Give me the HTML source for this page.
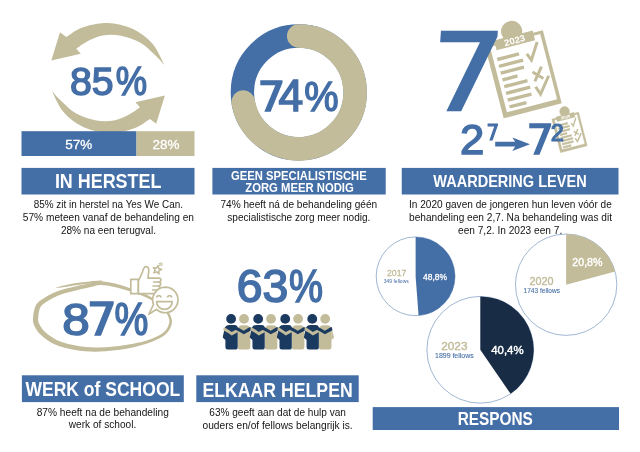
<!DOCTYPE html>
<html lang="nl"><head><meta charset="utf-8"><title>Resultaten</title>
<style>html,body{margin:0;padding:0;background:#fff}svg{display:block}text{font-family:"Liberation Sans",sans-serif}</style>
</head><body>
<svg width="640" height="452" viewBox="0 0 640 452">
<rect width="640" height="452" fill="#fff"/>
<path id="arr" d="M66.25 37.00C68.96 35.42 75.62 29.83 82.50 27.50C89.38 25.17 99.17 22.79 107.50 23.00C115.83 23.21 125.00 25.29 132.50 28.75C140.00 32.21 147.20 37.71 152.50 43.75C157.80 49.79 162.33 61.46 164.30 65.00C162.75 63.33 159.05 58.75 155.00 55.00C150.95 51.25 145.83 45.75 140.00 42.50C134.17 39.25 126.25 36.67 120.00 35.50C113.75 34.33 107.92 34.54 102.50 35.50C97.08 36.46 91.88 39.04 87.50 41.25C83.12 43.46 78.12 47.50 76.25 48.75L80.75 53.75L51.3 60.5L60 32.3Z" fill="#c2bc9a"/>
<use href="#arr" transform="rotate(180 108.1 78)"/>
<text fill="#446ea6" stroke="#446ea6" stroke-width="1.50" stroke-linejoin="miter"><tspan x="69.94" y="94.86" font-size="39.69" font-family="Liberation Sans, sans-serif" textLength="43.76" lengthAdjust="spacingAndGlyphs">85</tspan><tspan x="115.79" y="95.01" font-size="40.16" font-family="Liberation Sans, sans-serif" textLength="31.31" lengthAdjust="spacingAndGlyphs">%</tspan></text>
<rect x="21.50" y="131.20" width="115.00" height="24.80" fill="#446ea6" />
<rect x="136.50" y="131.20" width="58.00" height="24.80" fill="#c2bc9a" />
<text x="65.20" y="149.00" font-size="13.40" fill="#fff" font-weight="normal" textLength="27.00" lengthAdjust="spacingAndGlyphs" text-anchor="start" stroke="#fff" stroke-width="0.3">57%</text>
<text x="152.40" y="149.00" font-size="13.40" fill="#fff" font-weight="normal" textLength="27.00" lengthAdjust="spacingAndGlyphs" text-anchor="start" stroke="#fff" stroke-width="0.3">28%</text>
<rect x="21.50" y="167.90" width="173.00" height="26.60" fill="#446ea6" />
<text x="54.90" y="188.40" font-size="20.35" fill="#fff" font-weight="bold" textLength="106.45" lengthAdjust="spacingAndGlyphs" text-anchor="start" >IN HERSTEL</text>
<text x="33.75" y="208.00" font-size="10.60" fill="#141414" font-weight="normal" textLength="149.25" lengthAdjust="spacingAndGlyphs" text-anchor="start" >85% zit in herstel na Yes We Can.</text>
<text x="22.80" y="220.80" font-size="10.60" fill="#141414" font-weight="normal" textLength="171.20" lengthAdjust="spacingAndGlyphs" text-anchor="start" >57% meteen vanaf de behandeling en</text>
<text x="60.90" y="233.60" font-size="10.60" fill="#141414" font-weight="normal" textLength="95.10" lengthAdjust="spacingAndGlyphs" text-anchor="start" >28% na een terugval.</text>
<circle cx="298.75" cy="92.40" r="56.40" fill="none" stroke="#446ea6" stroke-width="23.30"/>
<path d="M298.75 36.00A56.40 56.40 0 1 1 243.21 102.19" fill="none" stroke="#c2bc9a" stroke-width="23.60" stroke-linecap="round"/>
<text fill="#446ea6" stroke="#446ea6" stroke-width="1.50" stroke-linejoin="miter"><tspan x="257.44" y="110.75" font-size="41.43" font-family="DejaVu Sans, sans-serif" textLength="27.96" lengthAdjust="spacingAndGlyphs">7</tspan><tspan x="278.63" y="110.75" font-size="43.90" font-family="Liberation Sans, sans-serif" textLength="24.72" lengthAdjust="spacingAndGlyphs">4</tspan><tspan x="304.27" y="110.50" font-size="43.16" font-family="Liberation Sans, sans-serif" textLength="34.35" lengthAdjust="spacingAndGlyphs">%</tspan></text>
<rect x="212.40" y="167.90" width="173.30" height="26.60" fill="#446ea6" />
<text x="231.04" y="179.75" font-size="12.21" fill="#fff" font-weight="bold" textLength="135.65" lengthAdjust="spacingAndGlyphs" text-anchor="start" >GEEN SPECIALISTISCHE</text>
<text x="245.26" y="191.90" font-size="12.06" fill="#fff" font-weight="bold" textLength="108.54" lengthAdjust="spacingAndGlyphs" text-anchor="start" >ZORG MEER NODIG</text>
<text x="220.40" y="208.00" font-size="10.60" fill="#141414" font-weight="normal" textLength="156.80" lengthAdjust="spacingAndGlyphs" text-anchor="start" >74% heeft ná de behandeling géén</text>
<text x="227.30" y="220.70" font-size="10.60" fill="#141414" font-weight="normal" textLength="143.10" lengthAdjust="spacingAndGlyphs" text-anchor="start" >specialistische zorg meer nodig.</text>
<g transform="translate(486.20 44.80) rotate(-14.5) scale(1.000)" >
<circle cx="28.00" cy="-6.60" r="10.6" fill="#c2bc9a"/>
<rect x="-1.5" y="0" width="60" height="75.5" fill="#c2bc9a"/>
<rect x="3.2" y="3" width="51.8" height="67.5" fill="#fff"/>
<rect x="8.7" y="-2.2" width="39.8" height="10" fill="#c2bc9a"/>
<rect x="7" y="15.30" width="22.50" height="3.4" fill="#c2bc9a"/>
<rect x="7" y="22.30" width="25.00" height="3.4" fill="#c2bc9a"/>
<rect x="7" y="29.30" width="24.00" height="3.4" fill="#c2bc9a"/>
<rect x="7" y="36.30" width="15.50" height="3.4" fill="#c2bc9a"/>
<rect x="7" y="43.30" width="24.00" height="3.4" fill="#c2bc9a"/>
<rect x="7" y="50.30" width="25.00" height="3.4" fill="#c2bc9a"/>
<rect x="7" y="57.30" width="24.50" height="3.4" fill="#c2bc9a"/>
<rect x="7" y="64.30" width="17.50" height="3.4" fill="#c2bc9a"/>
<path d="M37 19L40 26L50 10M38 38L47 47M48 35L38 47.5M37.3 53L40.3 61.3L52.7 45.6" fill="none" stroke="#c2bc9a" stroke-width="3" stroke-linejoin="miter"/>
<text x="28.6" y="6" font-size="9.00" fill="#fff" stroke="none" text-anchor="middle" font-weight="bold" textLength="21.5" lengthAdjust="spacingAndGlyphs">2023</text>
</g>
<g transform="translate(552.60 119.00) rotate(-14.5) scale(0.457)" stroke="#c2bc9a" stroke-width="1.1">
<circle cx="29.50" cy="-9.50" r="10.6" fill="#c2bc9a"/>
<rect x="-1.5" y="0" width="60" height="75.5" fill="#c2bc9a"/>
<rect x="3.2" y="3" width="51.8" height="67.5" fill="#fff"/>
<rect x="8.7" y="-2.2" width="39.8" height="10" fill="#c2bc9a"/>
<rect x="7" y="15.30" width="22.50" height="3.4" fill="#c2bc9a"/>
<rect x="7" y="22.30" width="25.00" height="3.4" fill="#c2bc9a"/>
<rect x="7" y="29.30" width="24.00" height="3.4" fill="#c2bc9a"/>
<rect x="7" y="36.30" width="15.50" height="3.4" fill="#c2bc9a"/>
<rect x="7" y="43.30" width="24.00" height="3.4" fill="#c2bc9a"/>
<rect x="7" y="50.30" width="25.00" height="3.4" fill="#c2bc9a"/>
<rect x="7" y="57.30" width="24.50" height="3.4" fill="#c2bc9a"/>
<rect x="7" y="64.30" width="17.50" height="3.4" fill="#c2bc9a"/>
<path d="M37 19L40 26L50 10M38 38L47 47M48 35L38 47.5M37.3 53L40.3 61.3L52.7 45.6" fill="none" stroke="#c2bc9a" stroke-width="3" stroke-linejoin="miter"/>
<text x="28.6" y="6" font-size="8.50" fill="#fff" stroke="none" text-anchor="middle" font-weight="bold" textLength="21.5" lengthAdjust="spacingAndGlyphs">2020</text>
</g>
<text fill="#446ea6" stroke="#446ea6" stroke-width="2.50" stroke-linejoin="miter" transform="translate(469 30.75) skewX(-4) translate(-469 -30.75)"><tspan x="432.76" y="110.00" font-size="107.00" font-family="DejaVu Sans, sans-serif" textLength="73.57" lengthAdjust="spacingAndGlyphs">7</tspan></text>
<text fill="#446ea6" stroke="#446ea6" stroke-width="1.50" stroke-linejoin="miter"><tspan x="459.95" y="154.15" font-size="42.25" font-family="Liberation Sans, sans-serif" textLength="24.29" lengthAdjust="spacingAndGlyphs">2</tspan></text>
<text fill="#446ea6" stroke="#446ea6" stroke-width="1.20" stroke-linejoin="miter"><tspan x="486.57" y="140.30" font-size="21.67" font-family="DejaVu Sans, sans-serif" textLength="12.62" lengthAdjust="spacingAndGlyphs">7</tspan></text>
<path d="M495.2 141.8H515.2L512.3 137.5L530 144.2L512.3 150.9L515.2 146.6H495.2Z" fill="#446ea6"/>
<text fill="#446ea6" stroke="#446ea6" stroke-width="1.50" stroke-linejoin="miter"><tspan x="526.40" y="154.15" font-size="40.47" font-family="DejaVu Sans, sans-serif" textLength="27.55" lengthAdjust="spacingAndGlyphs">7</tspan></text>
<text fill="#446ea6" stroke="#446ea6" stroke-width="1.20" stroke-linejoin="miter"><tspan x="550.72" y="141.00" font-size="23.63" font-family="Liberation Sans, sans-serif" textLength="13.06" lengthAdjust="spacingAndGlyphs">2</tspan></text>
<rect x="401.75" y="167.90" width="216.75" height="26.60" fill="#446ea6" />
<text x="433.24" y="187.30" font-size="16.72" fill="#fff" font-weight="bold" textLength="153.44" lengthAdjust="spacingAndGlyphs" text-anchor="start" >WAARDERING LEVEN</text>
<text x="409.00" y="208.20" font-size="10.60" fill="#141414" font-weight="normal" textLength="202.80" lengthAdjust="spacingAndGlyphs" text-anchor="start" >In 2020 gaven de jongeren hun leven vóór de</text>
<text x="409.00" y="221.00" font-size="10.60" fill="#141414" font-weight="normal" textLength="203.00" lengthAdjust="spacingAndGlyphs" text-anchor="start" >behandeling een 2,7. Na behandeling was dit</text>
<text x="458.00" y="233.80" font-size="10.60" fill="#141414" font-weight="normal" textLength="104.20" lengthAdjust="spacingAndGlyphs" text-anchor="start" >een 7,2. In 2023 een 7.</text>
<circle cx="415.60" cy="276.30" r="39.40" fill="#fff" stroke="#446ea6" stroke-width="0.5"/>
<path d="M415.60 276.30L415.60 236.90A39.40 39.40 0 0 1 418.57 315.59Z" fill="#446ea6"/>
<text x="387.00" y="275.90" font-size="9.20" fill="#c2bc9a" font-weight="normal" textLength="19.40" lengthAdjust="spacingAndGlyphs" text-anchor="start" stroke="#c2bc9a" stroke-width="0.3">2017</text>
<text x="383.75" y="282.50" font-size="5.30" fill="#446ea6" font-weight="normal" textLength="25.00" lengthAdjust="spacingAndGlyphs" text-anchor="start" >349 fellows</text>
<text x="423.10" y="279.80" font-size="9.10" fill="#fff" font-weight="normal" textLength="24.00" lengthAdjust="spacingAndGlyphs" text-anchor="start" stroke="#fff" stroke-width="0.3">48,8%</text>
<circle cx="566.15" cy="284.70" r="50.70" fill="#fff" stroke="#446ea6" stroke-width="0.5"/>
<path d="M566.15 284.70L566.15 234.00A50.70 50.70 0 0 1 615.09 271.48Z" fill="#c2bc9a"/>
<text x="529.50" y="284.80" font-size="10.60" fill="#c2bc9a" font-weight="normal" textLength="24.00" lengthAdjust="spacingAndGlyphs" text-anchor="start" stroke="#c2bc9a" stroke-width="0.4">2020</text>
<text x="523.60" y="293.00" font-size="6.70" fill="#446ea6" font-weight="normal" textLength="36.40" lengthAdjust="spacingAndGlyphs" text-anchor="start" stroke="#446ea6" stroke-width="0.08">1743 fellows</text>
<text x="572.30" y="265.70" font-size="11.00" fill="#fff" font-weight="normal" textLength="30.20" lengthAdjust="spacingAndGlyphs" text-anchor="start" stroke="#fff" stroke-width="0.4">20,8%</text>
<circle cx="480.30" cy="349.80" r="53.40" fill="#fff" stroke="#446ea6" stroke-width="0.5"/>
<path d="M480.30 349.80L480.30 296.40A53.40 53.40 0 0 1 510.59 393.78Z" fill="#182d45"/>
<text x="441.25" y="349.70" font-size="10.80" fill="#c2bc9a" font-weight="normal" textLength="26.25" lengthAdjust="spacingAndGlyphs" text-anchor="start" stroke="#c2bc9a" stroke-width="0.4">2023</text>
<text x="435.00" y="358.00" font-size="6.80" fill="#446ea6" font-weight="normal" textLength="38.75" lengthAdjust="spacingAndGlyphs" text-anchor="start" stroke="#446ea6" stroke-width="0.08">1899 fellows</text>
<text x="491.25" y="354.40" font-size="11.60" fill="#fff" font-weight="normal" textLength="32.30" lengthAdjust="spacingAndGlyphs" text-anchor="start" stroke="#fff" stroke-width="0.45">40,4%</text>
<rect x="372.70" y="407.10" width="246.30" height="22.90" fill="#446ea6" />
<text x="457.67" y="425.30" font-size="17.73" fill="#fff" font-weight="bold" textLength="75.23" lengthAdjust="spacingAndGlyphs" text-anchor="start" >RESPONS</text>
<path d="M33.00 318.00C33.25 314.50 34.00 308.42 36.00 305.00C38.00 301.58 41.33 299.83 45.00 297.50C48.67 295.17 53.00 292.83 58.00 291.00C63.00 289.17 69.67 287.78 75.00 286.50C80.33 285.22 85.83 284.17 90.00 283.30C94.17 282.43 95.83 281.25 100.00 281.30C104.17 281.35 110.00 282.43 115.00 283.60C120.00 284.77 124.17 286.15 130.00 288.30C135.83 290.45 144.50 293.55 150.00 296.50C155.50 299.45 159.67 303.00 163.00 306.00C166.33 309.00 168.53 311.53 170.00 314.50C171.47 317.47 172.47 320.55 171.80 323.80C171.13 327.05 169.30 331.00 166.00 334.00C162.70 337.00 157.20 339.65 152.00 341.80C146.80 343.95 140.97 345.48 134.80 346.90C128.63 348.32 121.63 349.50 115.00 350.30C108.37 351.10 101.67 351.75 95.00 351.70C88.33 351.65 81.67 351.20 75.00 350.00C68.33 348.80 60.67 347.00 55.00 344.50C49.33 342.00 44.42 338.08 41.00 335.00C37.58 331.92 35.83 328.83 34.50 326.00C33.17 323.17 32.75 321.50 33.00 318.00ZM39.53 324.57C40.74 327.00 42.31 329.64 45.43 332.33C48.54 335.02 52.99 338.49 58.22 340.71C63.45 342.94 70.58 344.57 76.79 345.68C83.00 346.79 89.24 347.27 95.49 347.38C101.74 347.50 108.03 347.00 114.31 346.39C120.59 345.78 127.25 344.89 133.16 343.73C139.07 342.58 144.72 341.34 149.77 339.48C154.82 337.62 160.23 335.28 163.46 332.57C166.69 329.86 168.51 326.22 169.17 323.23C169.83 320.24 168.85 317.37 167.42 314.64C165.98 311.91 163.82 309.57 160.57 306.84C157.32 304.10 153.24 300.88 147.93 298.25C142.61 295.62 134.26 292.95 128.67 291.06C123.08 289.17 119.14 287.93 114.39 286.91C109.64 285.90 104.10 284.92 100.16 284.95C96.22 284.98 94.64 286.20 90.75 287.08C86.85 287.97 81.73 289.07 76.78 290.28C71.82 291.50 65.64 292.75 61.02 294.39C56.40 296.03 52.43 298.09 49.05 300.13C45.68 302.16 42.58 303.67 40.77 306.61C38.96 309.55 38.41 314.75 38.21 317.75C38.00 320.74 38.33 322.14 39.53 324.57Z" fill="#c2bc9a" fill-rule="evenodd"/>
<path d="M54.3 288.3C62 285.4 72 283.4 82 282.2C90 281.2 96 280.6 102 280.4L102 282.4C96 282.6 90 283.2 83 284.2C73 285.6 63 287.2 54.3 288.3Z" fill="#c2bc9a"/>
<text fill="#446ea6" stroke="#446ea6" stroke-width="1.60" stroke-linejoin="miter"><tspan x="62.25" y="334.56" font-size="44.91" font-family="Liberation Sans, sans-serif" textLength="27.50" lengthAdjust="spacingAndGlyphs">8</tspan><tspan x="86.81" y="335.00" font-size="43.62" font-family="DejaVu Sans, sans-serif" textLength="30.13" lengthAdjust="spacingAndGlyphs">7</tspan><tspan x="114.54" y="334.73" font-size="45.45" font-family="Liberation Sans, sans-serif" textLength="33.81" lengthAdjust="spacingAndGlyphs">%</tspan></text>
<g fill="#fff" stroke="#c2bc9a" stroke-width="1.7" stroke-linejoin="round">
<rect x="130.8" y="279.3" width="7.6" height="14.4"/>
<path d="M138.4 281L142.5 272C143 268 145 266.3 146.8 266.8C148.8 267.5 149 270 148.6 272.5L148 278.2H159C161.5 278.2 161.5 282 159 282C161.5 282.3 161 286 158.5 286C160.5 286.5 160 290 157.5 290C159 290.7 158.5 293.7 156 293.7H138.4Z"/>
<path d="M153 282H159M152.5 286H158.5M152 290H157.5" fill="none"/>
<path d="M165.4 287.1A12.8 12.8 0 1 1 156.5 309.3L148.8 314.4L153.5 304.5A12.8 12.8 0 0 1 165.4 287.1Z"/>
<path d="M156.6 301.6H172.2A7.8 7.8 0 0 1 156.6 301.6Z"/>
<path d="M156.5 297.5A2.4 2.4 0 0 1 161.2 297.5M167.3 297.5A2.4 2.4 0 0 1 172 297.5" fill="none"/>
</g>
<polygon points="158.14,265.50 158.69,268.56 161.68,269.43 158.93,270.90 159.03,274.01 156.78,271.86 153.86,272.91 155.21,270.11 153.30,267.65 156.39,268.07" fill="#fff" stroke="#c2bc9a" stroke-width="1.50" stroke-linejoin="round"/>
<polygon points="161.10,262.44 161.29,263.76 162.59,264.10 161.39,264.70 161.47,266.04 160.53,265.08 159.29,265.57 159.90,264.38 159.05,263.35 160.37,263.57" fill="#fff" stroke="#c2bc9a" stroke-width="0.90" stroke-linejoin="round"/>
<rect x="21.90" y="375.30" width="161.90" height="26.80" fill="#446ea6" />
<text x="25.48" y="396.30" font-size="20.78" fill="#fff" font-weight="bold" textLength="154.76" lengthAdjust="spacingAndGlyphs" text-anchor="start" >WERK of SCHOOL</text>
<text x="36.70" y="415.50" font-size="10.60" fill="#141414" font-weight="normal" textLength="132.15" lengthAdjust="spacingAndGlyphs" text-anchor="start" >87% heeft na de behandeling</text>
<text x="68.80" y="428.20" font-size="10.60" fill="#141414" font-weight="normal" textLength="67.40" lengthAdjust="spacingAndGlyphs" text-anchor="start" >werk of school.</text>
<text fill="#446ea6" stroke="#446ea6" stroke-width="1.60" stroke-linejoin="miter"><tspan x="236.65" y="302.16" font-size="45.34" font-family="Liberation Sans, sans-serif" textLength="51.48" lengthAdjust="spacingAndGlyphs">63</tspan><tspan x="289.04" y="302.33" font-size="45.88" font-family="Liberation Sans, sans-serif" textLength="34.03" lengthAdjust="spacingAndGlyphs">%</tspan></text>
<defs><g id="pair">
<path d="M14.9 33.5V16Q15 11.4 19.5 11.4H23Q27.4 11.4 27.4 16V33.2Q27.4 35.7 24.9 35.7H17.1Q14.9 35.7 14.9 33.5Z" fill="#c2bc9a"/>
<circle cx="21.1" cy="5" r="4.9" fill="#c2bc9a"/>
<path d="M6.5 11.2H11.5Q14.8 11.2 14.8 14.5V33.5Q14.8 35.7 12.6 35.7H5Q2.5 35.7 2.5 33.2V26.2L0.3 24.2Q-0.3 23.6 0 22.6L1.6 15.2Q2.4 11.2 6.5 11.2Z" fill="#1b3a5f"/>
<circle cx="8.2" cy="5" r="4.9" fill="#1b3a5f"/>
<path d="M1.0 13.0Q5 15.2 8.8 18L15.3 14.6V18L8.8 21.5Q5 18.8 0.3 16.4Z" fill="#c2bc9a"/>
<path d="M11.5 11.8Q16.5 14 20.8 16.9L26.6 13.3Q27.6 12.8 27.9 13.8L28.3 15.6Q28.4 16.3 27.6 16.8L20.8 20.4Q16 17.4 11.5 15.4Z" fill="#1b3a5f"/>
</g></defs>
<path d="M331.3 327L333.9 336.8Q334.2 338 333.2 338.6L331.3 339.8Z" fill="#c2bc9a"/>
<use href="#pair" x="222.90" y="313.9"/>
<use href="#pair" x="249.95" y="313.9"/>
<use href="#pair" x="277.00" y="313.9"/>
<use href="#pair" x="304.05" y="313.9"/>
<rect x="196.30" y="375.30" width="162.40" height="26.80" fill="#446ea6" />
<text x="202.52" y="396.50" font-size="20.78" fill="#fff" font-weight="bold" textLength="150.17" lengthAdjust="spacingAndGlyphs" text-anchor="start" >ELKAAR HELPEN</text>
<text x="209.30" y="415.90" font-size="10.60" fill="#141414" font-weight="normal" textLength="136.60" lengthAdjust="spacingAndGlyphs" text-anchor="start" >63% geeft aan dat de hulp van</text>
<text x="202.50" y="428.70" font-size="10.60" fill="#141414" font-weight="normal" textLength="150.20" lengthAdjust="spacingAndGlyphs" text-anchor="start" >ouders en/of fellows belangrijk is.</text>
</svg>
</body></html>
